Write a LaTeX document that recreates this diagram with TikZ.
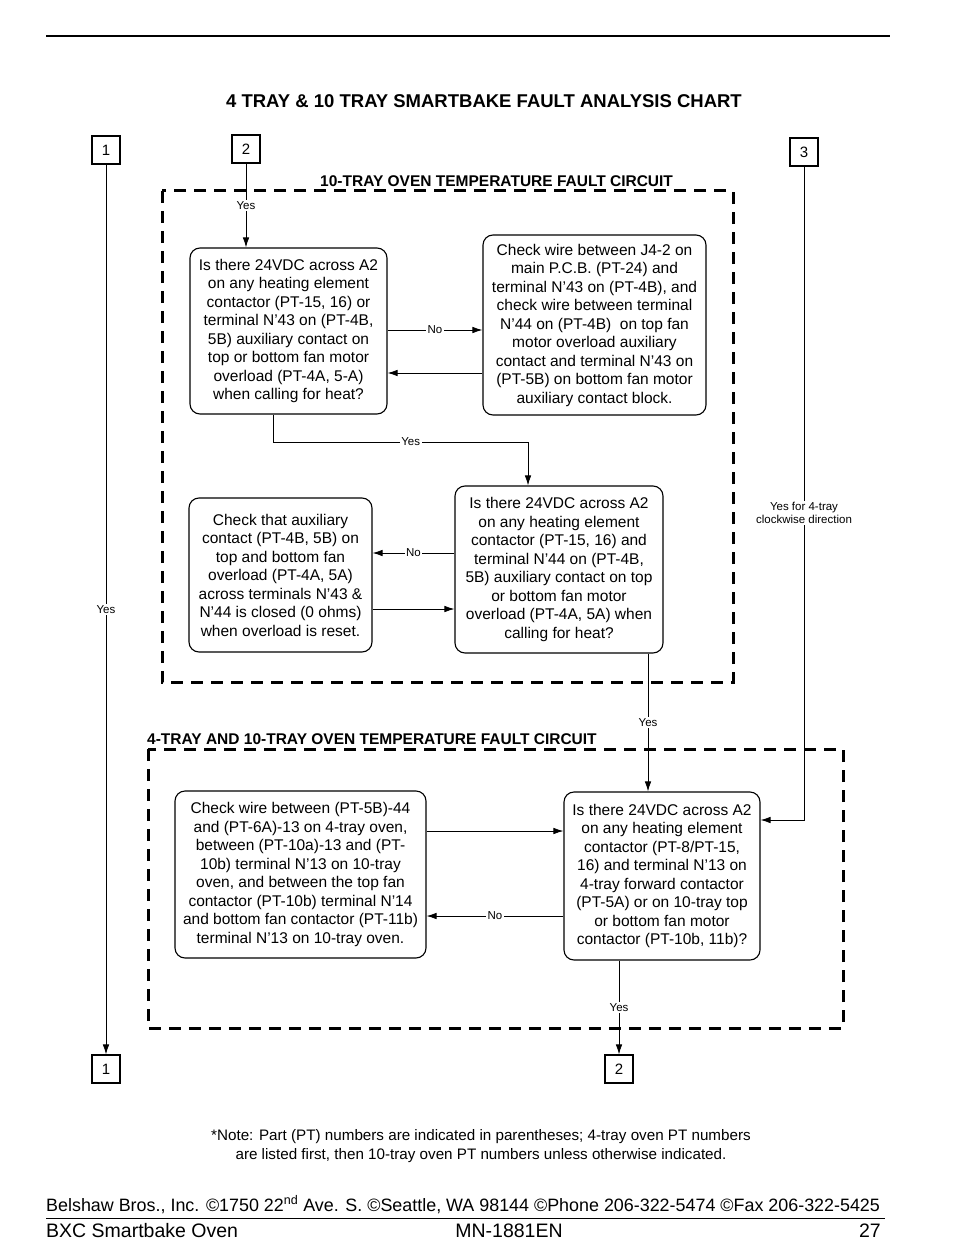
\documentclass[tikz,border=0pt]{standalone}
\usepackage{fontspec}
\setmainfont{Liberation Sans}
\usetikzlibrary{positioning,arrows.meta}

\tikzset{
  stepbox/.style={draw, line width=1.1pt, rounded corners=10pt, align=center, inner sep=0pt,
    font=\fontsize{15.5}{18.5}\selectfont},
  numbox/.style={draw, line width=1.1pt, minimum size=28pt, inner sep=0pt,
    font=\fontsize{15}{18}\selectfont},
  frame/.style={line width=3pt, dash pattern=on 12pt off 8pt},
  link/.style={line width=0.8pt, -{Latex[length=10pt,width=6.5pt]}},
  tag/.style={fill=white, inner sep=1.5pt, font=\fontsize{11.5}{13}\selectfont},
  heading/.style={anchor=south west, inner sep=0pt, font=\bfseries\fontsize{15.5}{18}\selectfont},
}

\begin{document}
\begin{tikzpicture}[x=1pt, y=-1pt]
    \useasboundingbox (0,0) rectangle (954,1260);
    \draw[line width=1.8pt] (46,36) -- (890,36);
    \node[font=\bfseries\fontsize{18.5}{22}\selectfont] (title) at (484,101)
        {4 TRAY \& 10 TRAY SMARTBAKE FAULT ANALYSIS CHART};

    % dashed circuit frames
    \draw[frame] (162,191) rectangle (733,682);
    \node[heading] (head10) at (320,187) {10-TRAY OVEN TEMPERATURE FAULT CIRCUIT};
    \draw[frame] (148,749) rectangle (843,1028);
    \node[heading] (head4) at (147,745) {4-TRAY AND 10-TRAY OVEN TEMPERATURE FAULT CIRCUIT};

    % connector boxes
    \node[numbox] (in1) at (106,150) {1};
    \node[numbox] (in2) at (246,149) {2};
    \node[numbox] (in3) at (804,152) {3};
    \node[numbox] (out1) at (106,1069) {1};
    \node[numbox] (out2) at (619,1069) {2};

    % 10-tray circuit
    \node[stepbox, minimum width=197pt, minimum height=166pt] (qa) at (288.5,331)
        {Is there 24VDC across A2\\on any heating element\\contactor (PT-15, 16) or\\terminal N’43 on (PT-4B,\\5B) auxiliary contact on\\top or bottom fan motor\\overload (PT-4A, 5-A)\\when calling for heat?};
    \node[stepbox, minimum width=223pt, minimum height=180pt] (cb) at (594.5,325)
        {Check wire between J4-2 on\\main P.C.B. (PT-24) and\\terminal N’43 on (PT-4B), and\\check wire between terminal\\N’44 on (PT-4B)\ \ on top fan\\motor overload auxiliary\\contact and terminal N’43 on\\(PT-5B) on bottom fan motor\\auxiliary contact block.};
    \node[stepbox, minimum width=208pt, minimum height=167pt] (qc) at (559,569.5)
        {Is there 24VDC across A2\\on any heating element\\contactor (PT-15, 16) and\\terminal N’44 on (PT-4B,\\5B) auxiliary contact on top\\or bottom fan motor\\overload (PT-4A, 5A) when\\calling for heat?};
    \node[stepbox, minimum width=183pt, minimum height=154pt] (cd) at (280.5,575)
        {Check that auxiliary\\contact (PT-4B, 5B) on\\top and bottom fan\\overload (PT-4A, 5A)\\across terminals N’43 \&\\N’44 is closed (0 ohms)\\when overload is reset.};

    % 4-tray and 10-tray circuit
    \node[stepbox, minimum width=251pt, minimum height=167pt] (ce) at (300.5,874.5)
        {Check wire between (PT-5B)-44\\and (PT-6A)-13 on 4-tray oven,\\between (PT-10a)-13 and (PT-\\10b) terminal N’13 on 10-tray\\oven, and between the top fan\\contactor (PT-10b) terminal N’14\\and bottom fan contactor (PT-11b)\\terminal N’13 on 10-tray oven.};
    \node[stepbox, minimum width=196pt, minimum height=168pt] (qf) at (662,876)
        {Is there 24VDC across A2\\on any heating element\\contactor (PT-8/PT-15,\\16) and terminal N’13 on\\4-tray forward contactor\\(PT-5A) or on 10-tray top\\or bottom fan motor\\contactor (PT-10b, 11b)?};

    % connectors
    \draw[link] (in1) -- node[tag] {Yes} (out1);
    \draw[link] (in2) -- node[tag] {Yes} (in2 |- qa.north);
    \draw[link] (qa.east |- 0,330) -- node[tag] {No} (cb.west |- 0,330);
    \draw[link] (cb.west |- 0,373) -- (qa.east |- 0,373);
    \draw[link] (qa.south -| 273,0) -- (273,442) -- node[tag, pos=0.54] {Yes} (528,442) -- (qc.north -| 528,0);
    \draw[link] (qc.west |- 0,553) -- node[tag] {No} (cd.east |- 0,553);
    \draw[link] (cd.east |- 0,609) -- (qc.west |- 0,609);
    \draw[link] (qc.south -| 648,0) -- node[tag] {Yes} (qf.north -| 648,0);
    \draw[link] (in3) -- node[tag, align=center, pos=0.53] {Yes for 4-tray\\clockwise direction} (in3 |- 0,820) -- (qf.east |- 0,820);
    \draw[link] (ce.east |- 0,831) -- (qf.west |- 0,831);
    \draw[link] (qf.west |- 0,916) -- node[tag] {No} (ce.east |- 0,916);
    \draw[link] (qf.south -| out2) -- node[tag] {Yes} (out2);

    % footer
    \node[align=center, font=\fontsize{15.2}{19}\selectfont] (note) at (481,1146.5)
        {*Note: Part (PT) numbers are indicated in parentheses; 4-tray oven PT numbers\\are listed first, then 10-tray oven PT numbers unless otherwise indicated.};
    \node[anchor=base west, inner sep=0pt, font=\fontsize{17.9}{20}\selectfont] (addr) at (46,1211)
        {Belshaw Bros., Inc. ©1750 22\textsuperscript{nd} Ave. S. ©Seattle, WA 98144 ©Phone 206-322-5474 ©Fax 206-322-5425};
    \draw[line width=1pt] (46,1218) -- (885,1218);
    \node[anchor=base west, inner sep=0pt, font=\fontsize{19.5}{22}\selectfont] (model) at (46,1237) {BXC Smartbake Oven};
    \node[anchor=base, inner sep=0pt, font=\fontsize{19.5}{22}\selectfont] (manual) at (509,1237) {MN-1881EN};
    \node[anchor=base east, inner sep=0pt, font=\fontsize{19.5}{22}\selectfont] (page) at (881,1237) {27};
\end{tikzpicture}
\end{document}
